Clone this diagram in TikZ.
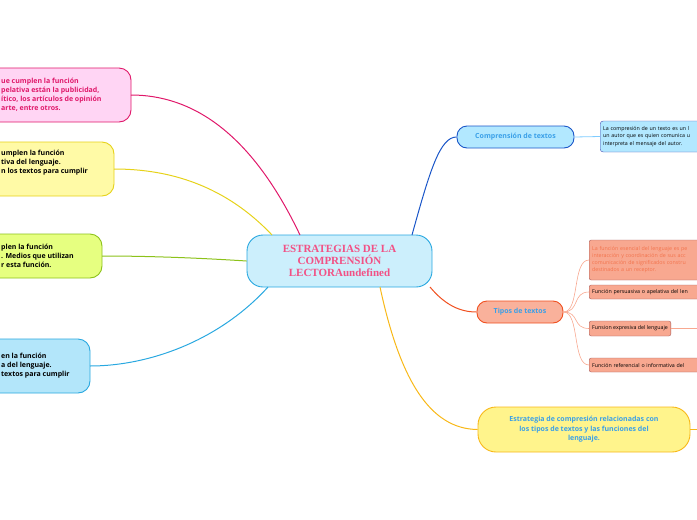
\documentclass[tikz,border=0pt]{standalone}
\usepackage{fontspec}
\setmainfont{Open Sans}
\newfontfamily\serifb{Liberation Serif}
\begin{document}
\begin{tikzpicture}[x=1pt,y=-1pt,
 box/.style={draw,line width=0.9pt,rounded corners=12pt},
 lbl/.style={anchor=west,inner sep=0,font=\bfseries\fontsize{7}{9}\selectfont},
 sm/.style={anchor=west,inner sep=0,font=\fontsize{5.3}{7}\selectfont},
 con/.style={line width=1pt}]
\definecolor{cpink}{HTML}{E0186A}\definecolor{cyel}{HTML}{E6D21A}
\definecolor{cgr}{HTML}{8CC21A}\definecolor{cbl}{HTML}{29A8E0}
\definecolor{cdb}{HTML}{1A56C8}\definecolor{cor}{HTML}{F05020}
\definecolor{cgo}{HTML}{F8B818}\definecolor{ctxt}{HTML}{3AA0E8}
\definecolor{csal}{HTML}{F8A890}
\useasboundingbox (0,0) rectangle (697,520);
\clip (0,0) rectangle (697,520);
% side boxes
\draw[box,fill=pink!60!magenta!30,draw=cpink] (-40,68) rectangle (131,122);
\node[lbl,text=cpink,align=left] (p) at (1,95) {ue cumplen la función\\pelativa están la publicidad,\\ítico, los artículos de opinión\\arte, entre otros.};
\draw[box,fill=yellow!35,draw=cyel] (-40,142) rectangle (114,196);
\node[lbl,align=left] (y) at (1,163) {umplen la función\\tiva del lenguaje.\\n los textos para cumplir};
\draw[box,fill=green!20!yellow!50,draw=cgr] (-40,234) rectangle (102,278);
\node[lbl,align=left] (g) at (1,256) {plen la función\\. Medios que utilizan\\r esta función.};
\draw[box,fill=cyan!30,draw=cbl] (-40,339) rectangle (90,393);
\node[lbl,align=left] (b) at (1,366) {en la función\\a del lenguaje.\\textos para cumplir};
\coordinate (pr) at (131,95);\coordinate (yr) at (114,169);
\coordinate (gr) at (102,256);\coordinate (br) at (90,366);
% center
\node[box,fill=cyan!20,draw=cbl,minimum width=185pt,minimum height=52pt,rounded corners=16pt,align=center,text=magenta!60!red!70,font=\serifb\bfseries\fontsize{11}{12}\selectfont] (c) at (339.5,261) {ESTRATEGIAS DE LA\\COMPRENSIÓN\\LECTORAundefined};
\draw[con,cpink] (300,235) .. controls (250,130) and (190,95) .. (pr);
\draw[con,cyel] (272,235) .. controls (220,180) and (160,169) .. (yr);
\draw[con,cgr] (c.west) .. controls (200,258) and (150,256) .. (gr);
\draw[con,cbl] (268,287) .. controls (220,340) and (150,366) .. (br);
% comprension
\node[box,fill=blue!30!cyan!30,draw=cdb,minimum width=117pt,minimum height=22pt,rounded corners=10pt,text=ctxt,font=\bfseries\fontsize{7}{9}\selectfont] (ct) at (515.5,137) {Comprensión de textos};
\draw[con,cdb] (412,235) .. controls (430,170) and (440,137) .. (ct.west);
\node[draw=blue!40!gray,fill=blue!30!cyan!30,rounded corners=3pt,minimum height=31pt,text width=120pt,inner sep=3pt,anchor=west,align=left,font=\fontsize{5.3}{7.5}\selectfont] (cd) at (600,136.5) {La compresión de un texto es un l\\un autor que es quien comunica u\\interpreta el mensaje del autor.};
\draw[blue!40!cyan!50,line width=0.8pt] (ct.east) -- (cd.west);
% tipos
\node[box,fill=csal!90,draw=cor,minimum width=86pt,minimum height=22pt,rounded corners=10pt,text=ctxt,font=\bfseries\fontsize{7}{9}\selectfont] (tt) at (520,312) {Tipos de textos};
\draw[con,cor] (430,287) .. controls (445,305) and (460,312) .. (tt.west);
\tikzset{sb/.style={draw=gray!70!red,fill=csal,rounded corners=2pt,anchor=west,inner sep=3pt,font=\fontsize{5.3}{7}\selectfont}}
\node[sb,text width=130pt,minimum height=40pt,text=cor!80!white,align=left] (s1) at (589,260) {La función esencial del lenguaje es pe\\interacción y coordinación de sus acc\\comunicación de significados constru\\destinados a un receptor.};
\node[sb,minimum height=14pt,text width=130pt] (s2) at (589,292) {Función persuasiva o apelativa del len};
\node[sb,minimum height=15pt] (s3) at (589,328.5) {Funsion expresiva del lenguaje};
\node[sb,minimum height=14pt,text width=130pt] (s4) at (589,365) {Función referencial o informativa del};
\coordinate (re) at (697,328.5);
\draw[csal,line width=0.6pt] (s3.east) -- (re);
\foreach \s in {s1,s2,s3,s4}{\draw[csal,line width=0.6pt] (tt.east) .. controls (580,312) and (572,0|-\s.west) .. (\s.west);}
% estrategia
\node[box,fill=orange!20!yellow!45,draw=cgo,minimum width=212pt,minimum height=45pt,rounded corners=18pt,align=center,text=ctxt,font=\bfseries\fontsize{7}{9.5}\selectfont] (es) at (584,429.5) {Estrategia de compresión relacionadas con\\los tipos de textos y las funciones del\\lenguaje.};
\draw[con,cgo] (380,287) .. controls (400,380) and (430,429) .. (es.west);
\coordinate (ee) at (697,429.5);
\draw[con,cgo] (es.east) -- (ee);
\end{tikzpicture}
\end{document}
